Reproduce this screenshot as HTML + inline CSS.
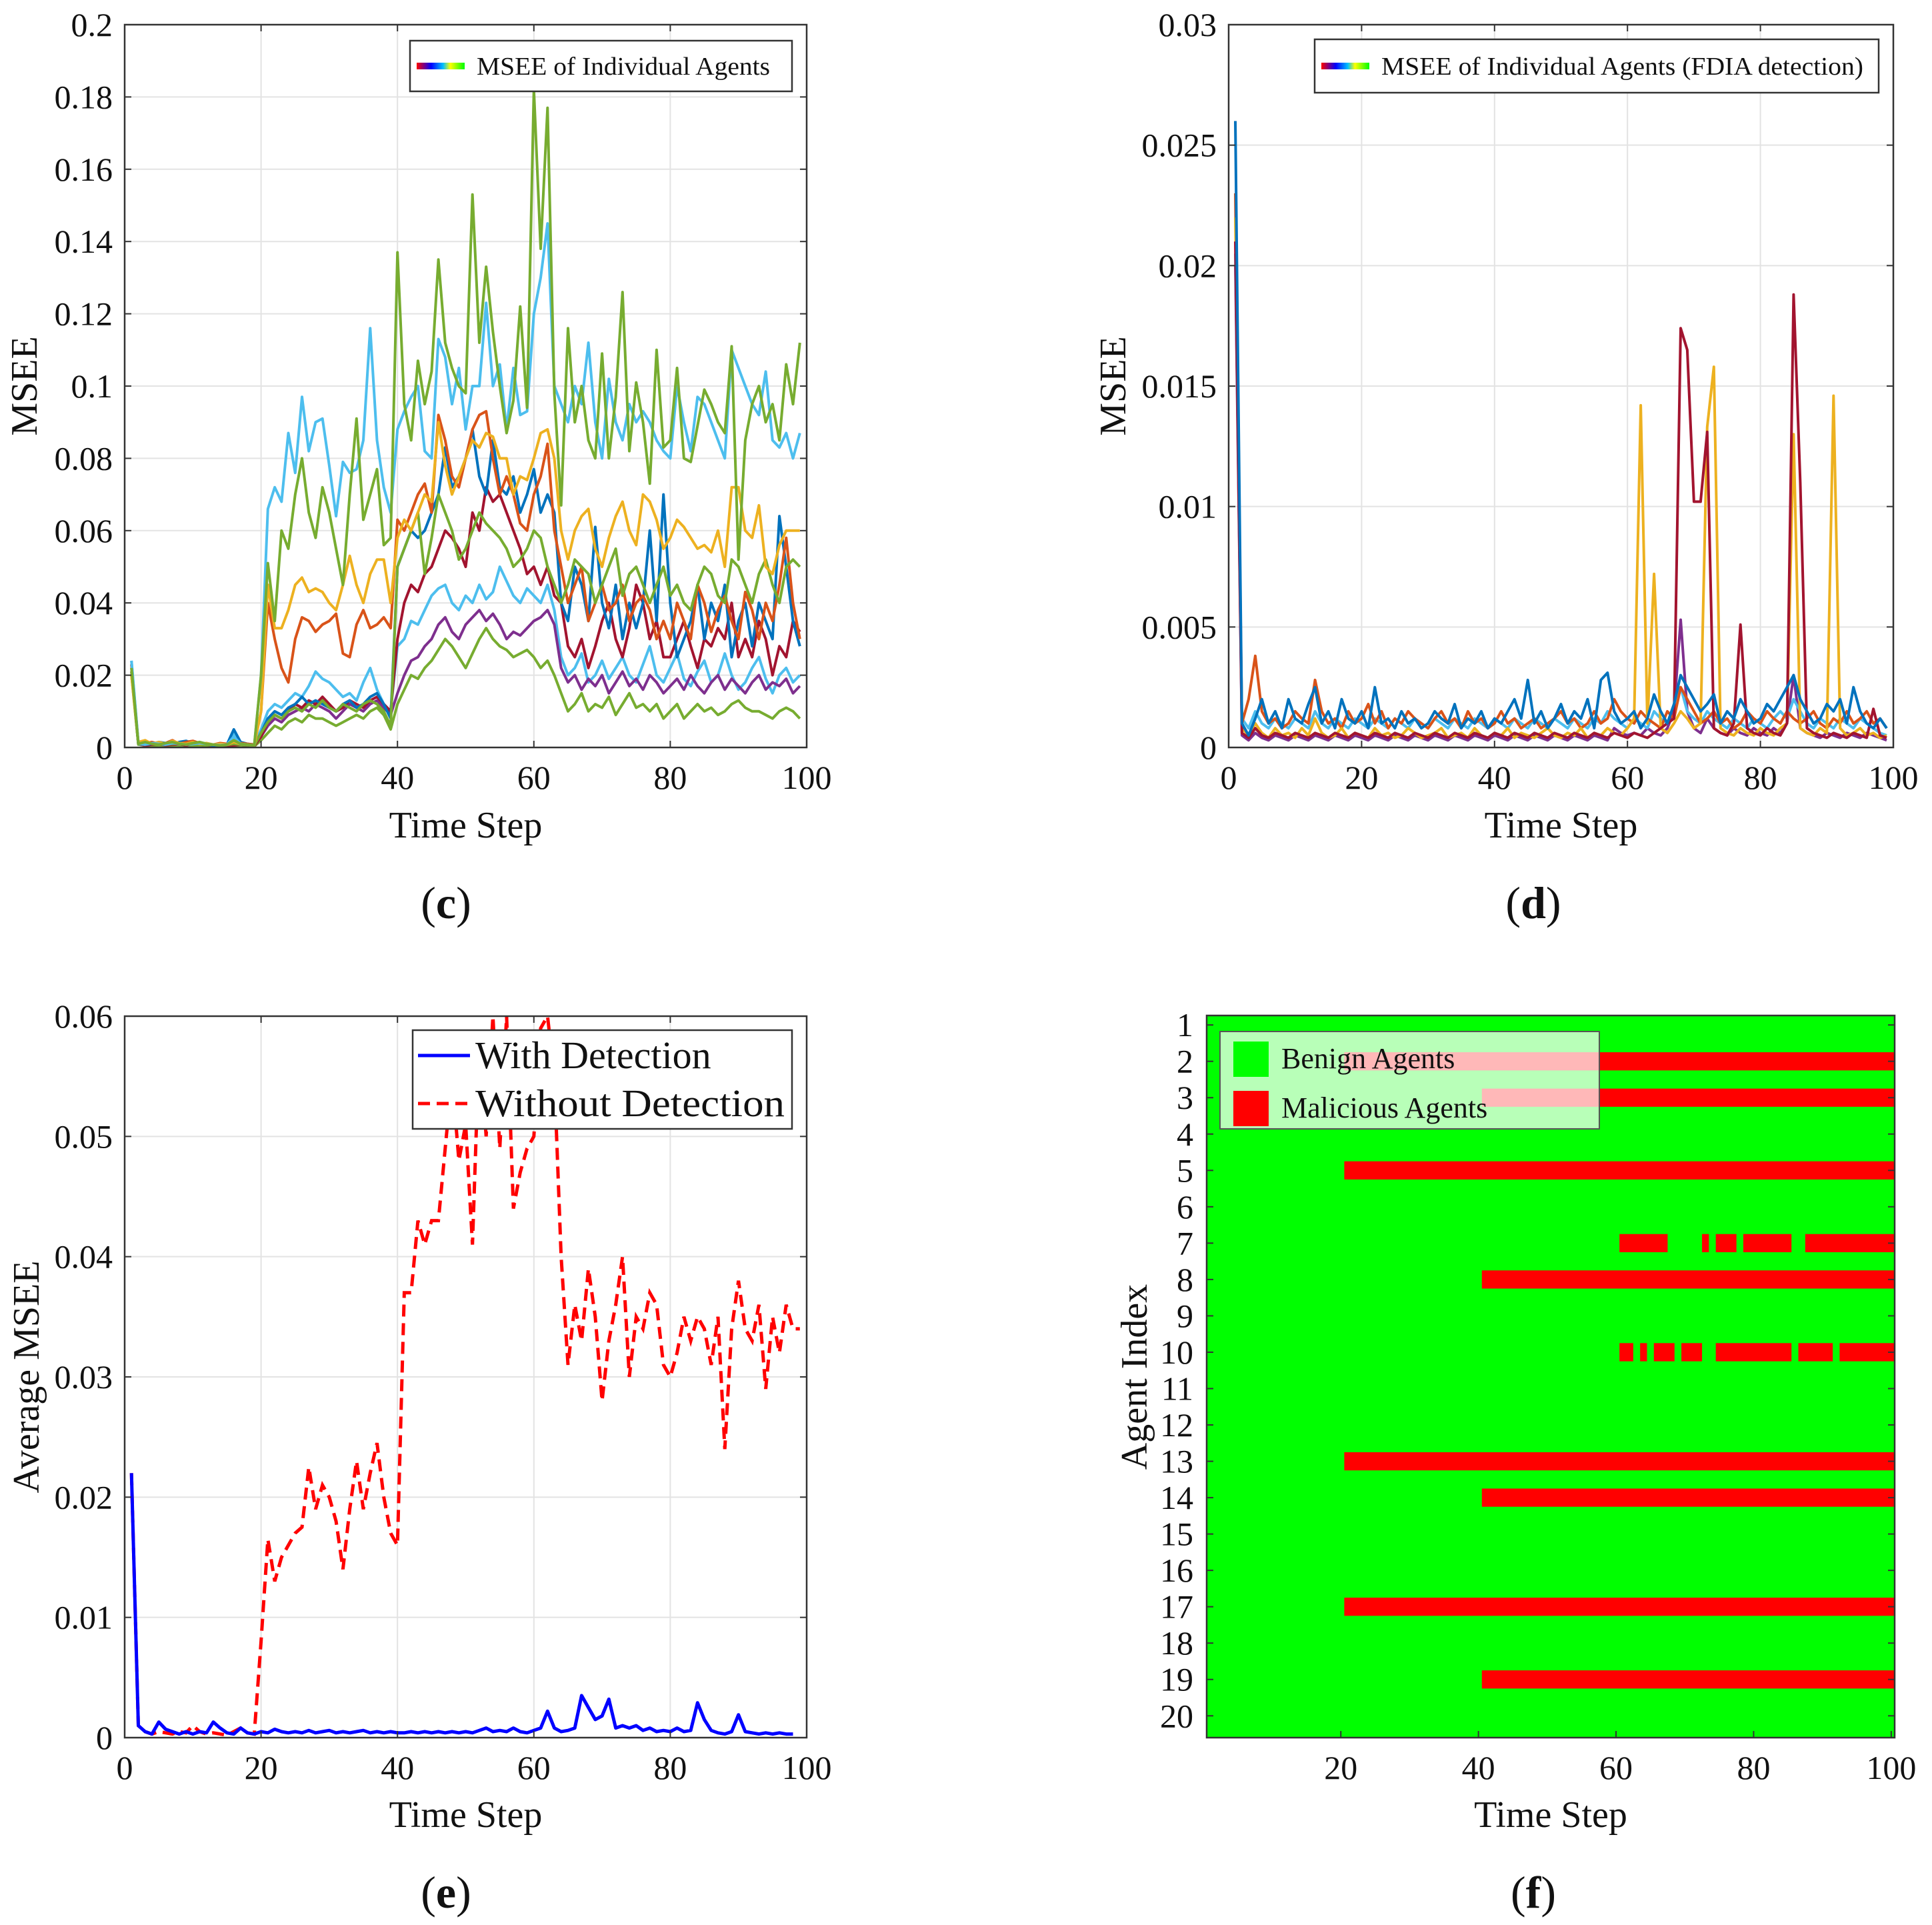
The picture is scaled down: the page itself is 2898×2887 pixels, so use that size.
<!DOCTYPE html>
<html><head><meta charset="utf-8"><style>
html,body{margin:0;padding:0;background:#fff}
svg{display:block}
text{font-family:"Liberation Serif",serif;fill:#111}
</style></head><body>
<svg id="fig" width="2898" height="2887" viewBox="0 0 2898 2887" xmlns="http://www.w3.org/2000/svg"></svg>
<script>
// ---------- panel (c) data ----------
const cTime = Array.from({length:99},(_, i)=>i+1);
const cGreenHigh = [.022,.001,.0015,.001,.0008,.0012,.0015,.001,.0008,.0012,.0015,.001,.0008,.0005,.0008,.002,.001,.0008,.0006,
.02,.051,.035,.06,.055,.07,.08,.065,.058,.072,.065,.055,.045,.07,.091,.063,.07,.077,.056,.058,
.137,.095,.085,.107,.095,.104,.135,.112,.105,.1,.098,.153,.112,.133,.115,.1,.087,.096,.122,.094,.182,.138,.177,.098,
.067,.116,.09,.1,.085,.08,.109,.08,.097,.126,.082,.101,.09,.073,.11,.083,.085,.105,.08,.079,.089,.099,.095,.09,.087,.111,.052,.085,.095,.1,.09,.095,.085,.106,.095,.112];
const cCyanHigh = [.024,.001,.0008,.0012,.001,.0008,.0012,.001,.0008,.001,.0012,.001,.0008,.0006,.0008,.003,.001,.0008,.0006,
.02,.066,.072,.068,.087,.076,.097,.082,.09,.091,.078,.064,.079,.076,.077,.085,.116,.085,.072,.065,
.088,.093,.097,.1,.082,.08,.113,.108,.095,.105,.088,.1,.1,.123,.1,.106,.088,.105,.092,.093,.12,.13,.145,.1,
.095,.09,.1,.095,.112,.09,.08,.102,.09,.085,.095,.09,.093,.09,.085,.082,.08,.1,.09,.082,.097,.095,.09,.085,.08,.11,.105,.1,.095,.092,.104,.085,.083,.087,.08,.087];
const cYellow = [.02,.0015,.002,.001,.0015,.001,.0018,.0012,.001,.0015,.001,.0012,.0008,.001,.0008,.0015,.001,.0008,.0005,
.01,.045,.033,.033,.038,.045,.047,.043,.044,.043,.04,.038,.045,.053,.045,.04,.048,.052,.052,.04,
.058,.063,.06,.065,.07,.068,.09,.078,.07,.075,.08,.085,.083,.087,.086,.08,.08,.07,.075,.074,.08,.087,.088,.08,
.06,.052,.06,.064,.066,.055,.05,.058,.064,.068,.06,.056,.07,.068,.063,.055,.058,.063,.061,.058,.055,.056,.054,.06,.05,.072,.072,.06,.058,.067,.05,.048,.056,.06,.06,.06];
const cOrange = [.023,.001,.0012,.0015,.001,.0012,.002,.001,.0015,.0018,.0012,.001,.0008,.0012,.001,.002,.0012,.001,.0008,
.01,.04,.03,.022,.018,.03,.036,.035,.032,.034,.035,.037,.026,.025,.034,.038,.033,.034,.036,.033,
.063,.06,.065,.07,.073,.065,.092,.085,.075,.072,.08,.088,.092,.093,.08,.07,.075,.07,.062,.06,.07,.075,.084,.06,
.05,.04,.045,.05,.035,.04,.045,.038,.04,.045,.035,.04,.042,.038,.03,.035,.03,.04,.035,.03,.045,.04,.032,.038,.042,.035,.03,.043,.038,.03,.04,.035,.045,.058,.04,.03];
const cBlue = [.023,.001,.0008,.001,.0015,.0012,.001,.0015,.0018,.0012,.001,.0008,.0005,.0006,.0008,.005,.0015,.001,.0008,
.004,.008,.01,.009,.011,.012,.014,.012,.013,.012,.011,.01,.012,.013,.011,.012,.014,.015,.012,.008,
.05,.055,.06,.058,.06,.065,.07,.083,.072,.075,.08,.088,.075,.07,.085,.072,.07,.075,.065,.07,.077,.065,.07,.065,
.04,.035,.05,.045,.035,.061,.04,.033,.045,.03,.04,.033,.04,.06,.035,.07,.04,.025,.03,.035,.045,.03,.04,.035,.045,.025,.035,.04,.028,.04,.035,.03,.064,.05,.035,.028];
const cDarkRed = [.021,.001,.0005,.0008,.001,.0006,.0008,.001,.0005,.0012,.0008,.0006,.0005,.0008,.0004,.0006,.0008,.0005,.0004,
.003,.007,.009,.008,.01,.012,.011,.013,.012,.014,.012,.01,.011,.013,.012,.011,.013,.014,.012,.01,
.03,.04,.045,.043,.048,.05,.055,.06,.058,.055,.05,.065,.06,.072,.068,.07,.065,.06,.055,.048,.05,.045,.05,.042,
.04,.028,.025,.03,.022,.028,.035,.04,.03,.025,.033,.045,.04,.03,.035,.025,.025,.03,.035,.028,.022,.03,.028,.033,.03,.04,.025,.03,.025,.035,.03,.02,.028,.025,.035,.032];
const cGreenLow = [.02,.0008,.0005,.0004,.0006,.0005,.0004,.0006,.0005,.0004,.0006,.0005,.0004,.0003,.0005,.0004,.0006,.0004,.0003,
.002,.004,.006,.005,.007,.008,.007,.009,.008,.008,.007,.006,.007,.008,.009,.008,.01,.011,.009,.005,
.012,.016,.02,.019,.022,.024,.027,.03,.028,.025,.022,.026,.03,.033,.03,.028,.027,.025,.026,.027,.025,.022,.024,.02,
.015,.01,.012,.015,.01,.012,.011,.014,.009,.012,.015,.011,.012,.01,.012,.008,.01,.012,.008,.01,.012,.01,.011,.009,.01,.012,.013,.011,.01,.01,.009,.008,.01,.011,.01,.008];
const cPurple = [.022,.001,.0008,.0005,.001,.0007,.0012,.0005,.0008,.001,.0006,.0005,.0008,.0004,.0006,.0005,.001,.0006,.0005,
.003,.006,.008,.007,.009,.01,.011,.01,.012,.011,.01,.008,.01,.012,.011,.01,.012,.013,.011,.009,
.015,.02,.024,.025,.028,.03,.034,.036,.032,.03,.034,.036,.038,.035,.037,.034,.03,.032,.031,.033,.035,.036,.038,.034,
.022,.018,.02,.016,.019,.017,.02,.015,.018,.021,.017,.019,.016,.02,.018,.015,.017,.019,.016,.02,.017,.015,.018,.02,.016,.019,.017,.015,.018,.02,.016,.018,.017,.019,.015,.017];
const cCyanMid = [.024,.0015,.001,.0008,.0012,.001,.0008,.0012,.001,.0008,.0015,.001,.0008,.0006,.0008,.004,.001,.0008,.0006,
.005,.01,.012,.011,.013,.015,.014,.017,.021,.019,.018,.016,.014,.015,.013,.018,.022,.016,.012,.01,
.028,.03,.035,.034,.038,.042,.044,.045,.04,.038,.042,.04,.045,.041,.043,.05,.046,.042,.04,.044,.042,.04,.045,.038,
.025,.02,.022,.026,.018,.02,.024,.019,.022,.025,.02,.018,.023,.028,.02,.018,.022,.026,.019,.017,.021,.024,.018,.02,.026,.02,.016,.018,.022,.025,.019,.015,.02,.022,.018,.02];
const cGreenMid = [.021,.001,.0008,.0012,.001,.0008,.001,.0012,.0008,.001,.0008,.0006,.0008,.0005,.0007,.001,.0008,.0006,.0005,
.004,.007,.009,.008,.01,.011,.01,.012,.011,.013,.011,.01,.012,.011,.01,.012,.013,.012,.01,.006,
.05,.055,.06,.065,.048,.058,.07,.065,.06,.052,.055,.06,.065,.062,.06,.058,.055,.05,.052,.055,.06,.058,.05,.045,
.04,.045,.052,.05,.048,.04,.045,.05,.055,.042,.048,.05,.045,.04,.045,.05,.042,.045,.04,.038,.045,.05,.048,.042,.04,.052,.05,.045,.04,.048,.052,.045,.04,.05,.052,.05];
const cSeries = [cCyanMid,cPurple,cGreenLow,cDarkRed,cBlue,cOrange,cGreenMid,cYellow,cCyanHigh,cGreenHigh];
const cColors = ["#4DBEEE","#7E2F8E","#77AC30","#A2142F","#0072BD","#D95319","#77AC30","#EDB120","#4DBEEE","#77AC30"];
const cYTicks = [0,0.02,0.04,0.06,0.08,0.1,0.12,0.14,0.16,0.18,0.2];
const cYTickLabels = ["0","0.02","0.04","0.06","0.08","0.1","0.12","0.14","0.16","0.18","0.2"];
const xTicks = [0,20,40,60,80,100];

// ---------- panel (d) data ----------
const dBlue = [.026,.001,.0005,.0012,.002,.001,.0015,.0008,.002,.0012,.001,.0018,.0025,.001,.0015,.0008,.002,.0012,.001,.0015,.0008,.0025,.001,.0012,.0008,.0015,.001,.0012,.0008,.001,.0015,.0012,.001,.0018,.0008,.0012,.001,.0015,.0008,.0012,.001,.0015,.002,.0012,.0028,.001,.0015,.0008,.0012,.0018,.001,.0015,.0012,.002,.0008,.0028,.0031,.0015,.001,.0012,.0015,.0008,.0012,.0022,.0015,.001,.0018,.003,.0025,.002,.0015,.0018,.0022,.001,.0015,.0012,.002,.0015,.001,.0012,.0018,.0015,.002,.0025,.003,.002,.0015,.001,.0012,.0018,.0015,.002,.001,.0025,.0015,.001,.0008,.0012,.0008];
const dOrange = [.023,.001,.002,.0038,.0015,.001,.0012,.0008,.001,.0015,.0012,.001,.0028,.0015,.001,.0012,.0008,.0015,.001,.0012,.0018,.001,.0015,.0008,.0012,.001,.0015,.0012,.001,.0008,.0012,.0015,.001,.0012,.0008,.0015,.001,.0012,.0008,.001,.0015,.001,.0012,.0008,.001,.0012,.0008,.001,.0012,.0015,.001,.0012,.0008,.001,.0015,.001,.0012,.002,.0015,.0012,.001,.0015,.0012,.001,.0008,.0015,.0012,.0025,.002,.0015,.001,.0012,.0015,.001,.0012,.0008,.001,.0015,.0012,.001,.0015,.0012,.001,.0015,.0012,.001,.0012,.0015,.001,.0008,.0012,.001,.0015,.001,.0012,.0015,.001,.0012,.0008];
const dYellow = [.022,.0008,.0005,.001,.0006,.0004,.0008,.0005,.0006,.0004,.0008,.0005,.0012,.0006,.0004,.0005,.0008,.0004,.0006,.0005,.0004,.0008,.0005,.0006,.0004,.0005,.0008,.0006,.0004,.0005,.0006,.0008,.0004,.0005,.0006,.0004,.0008,.0005,.0004,.0006,.0005,.0008,.0004,.0006,.0005,.0004,.0006,.0008,.0005,.0004,.0006,.0005,.0008,.0004,.0006,.0005,.0008,.0006,.0005,.0008,.0012,.0142,.001,.0072,.0008,.0006,.001,.0015,.0012,.0008,.001,.0133,.0158,.0008,.0006,.0005,.0008,.0006,.0005,.0008,.0006,.0005,.0008,.001,.013,.0008,.0006,.0005,.0008,.0006,.0146,.0008,.0005,.0006,.0008,.0005,.0006,.0004,.0005];
const dDarkRed = [.021,.0006,.0004,.0008,.0005,.0004,.0006,.0005,.0004,.0006,.0005,.0004,.0006,.0005,.0004,.0006,.0005,.0004,.0006,.0005,.0004,.0006,.0005,.0004,.0006,.0005,.0004,.0006,.0005,.0004,.0006,.0005,.0004,.0006,.0005,.0004,.0006,.0005,.0004,.0006,.0005,.0004,.0006,.0005,.0004,.0006,.0005,.0004,.0006,.0005,.0004,.0006,.0005,.0004,.0006,.0005,.0004,.0006,.0005,.0004,.0006,.0005,.0004,.0006,.0008,.001,.0012,.0174,.0165,.0102,.0102,.0131,.0008,.0006,.0005,.001,.0051,.0008,.0006,.0005,.0008,.0006,.0005,.001,.0188,.011,.0008,.0006,.0005,.0004,.0006,.0005,.0004,.0006,.0005,.0004,.0016,.0005,.0004];
const dPurple = [.02,.0005,.0003,.0006,.0004,.0003,.0005,.0004,.0003,.0005,.0004,.0003,.0005,.0004,.0003,.0005,.0004,.0003,.0005,.0004,.0003,.0005,.0004,.0003,.0005,.0004,.0003,.0005,.0004,.0003,.0005,.0004,.0003,.0005,.0004,.0003,.0005,.0004,.0003,.0005,.0004,.0003,.0005,.0004,.0003,.0005,.0004,.0003,.0005,.0004,.0003,.0005,.0004,.0003,.0005,.0004,.0003,.0008,.0006,.0005,.0006,.0005,.0008,.0006,.0005,.0008,.0015,.0053,.0015,.0008,.0006,.0012,.0008,.0006,.0005,.0008,.0006,.0005,.0008,.0006,.0005,.0008,.0006,.001,.003,.0008,.0006,.0005,.0004,.0006,.0005,.0004,.0006,.0005,.0004,.0006,.0005,.0004,.0003];
const dCyan = [.0205,.0012,.0008,.0015,.001,.0008,.0012,.001,.0008,.0012,.001,.0008,.0015,.001,.0008,.0012,.001,.0008,.0012,.001,.0008,.0012,.001,.0008,.0012,.001,.0008,.0012,.001,.0008,.0012,.001,.0008,.0012,.001,.0008,.0012,.001,.0008,.0012,.001,.0008,.0012,.001,.0008,.0012,.001,.0008,.0012,.001,.0008,.0012,.001,.0008,.0012,.001,.0015,.0012,.001,.0008,.0012,.001,.0008,.0015,.0012,.001,.0018,.0025,.0015,.0012,.001,.0015,.0012,.001,.0008,.0012,.001,.0008,.0012,.001,.0008,.0012,.0015,.0012,.002,.0015,.001,.0008,.0012,.001,.0008,.0012,.001,.0008,.0012,.001,.0008,.0006,.0005];
const dSeries = [dPurple,dCyan,dOrange,dYellow,dDarkRed,dBlue];
const dColors = ["#7E2F8E","#4DBEEE","#D95319","#EDB120","#A2142F","#0072BD"];
const dYTicks = [0,0.005,0.01,0.015,0.02,0.025,0.03];
const dYTickLabels = ["0","0.005","0.01","0.015","0.02","0.025","0.03"];

// ---------- panel (e) data ----------
const eWithout = [.022,.001,.0005,.0003,.0005,.0004,.0003,.0005,.0004,.001,.0005,.0003,.0004,.0003,.0002,.0005,.0008,.0004,.0003,
.008,.0165,.013,.015,.016,.017,.0175,.0225,.019,.021,.02,.018,.014,.019,.023,.019,.022,.0245,.02,.017,.016,
.037,.037,.043,.041,.043,.043,.049,.055,.048,.051,.041,.058,.05,.06,.049,.06,.044,.047,.049,.05,.059,.06,.055,
.04,.031,.036,.033,.039,.035,.028,.033,.036,.04,.03,.035,.034,.037,.036,.031,.03,.032,.035,.033,.035,.034,.031,.035,.024,.034,.038,.034,.033,.036,.029,.035,.032,.036,.034,.034];
const eWith = [.022,.001,.0005,.0003,.0013,.0007,.0005,.0003,.0005,.0003,.0005,.0004,.0013,.0008,.0004,.0003,.0008,.0004,.0003,
.0005,.0004,.0007,.0005,.0004,.0005,.0004,.0006,.0004,.0005,.0006,.0004,.0005,.0004,.0005,.0006,.0004,.0005,.0004,.0005,.0004,
.0004,.0005,.0004,.0005,.0004,.0005,.0004,.0005,.0004,.0005,.0004,.0006,.0008,.0005,.0006,.0005,.0008,.0005,.0004,.0006,.0008,.0022,.0008,
.0005,.0006,.0008,.0035,.0025,.0015,.0018,.0032,.0008,.001,.0008,.001,.0006,.0008,.0005,.0006,.0005,.0008,.0005,.0006,.0029,.0015,.0006,.0004,.0003,.0005,.0019,.0005,.0004,.0003,.0004,.0003,.0004,.0003,.0003];
const eYTicks = [0,0.01,0.02,0.03,0.04,0.05,0.06];
const eYTickLabels = ["0","0.01","0.02","0.03","0.04","0.05","0.06"];

// ---------- panel (f) data ----------
const fAgents = [1,2,3,4,5,6,7,8,9,10,11,12,13,14,15,16,17,18,19,20];
const fMaliciousRows = [2,3,5,7,8,10,13,14,17,19];
const fMaliciousStart = [[21],[41],[21],[61,73,75,79,88],[41],[61,64,66,70,75,87,93],[21],[41],[21],[41]];
const fMaliciousEnd = [[100],[100],[100],[67,73,77,85,100],[100],[62,64,68,72,85,91,100],[100],[100],[100],[100]];
const fXTicks = [20,40,60,80,100];

// ---------- helpers ----------
const NS="http://www.w3.org/2000/svg";
const svg=document.getElementById('fig');
function mk(tag,attrs,parent){const e=document.createElementNS(NS,tag);for(const k in attrs)e.setAttribute(k,attrs[k]);(parent||svg).appendChild(e);return e;}
function scale(d0,d1,r0,r1){return v=>r0+(v-d0)/(d1-d0)*(r1-r0);}

function axesFrame(g,L,T,R,B,xs,ys,xt,yt){
  xt.forEach(v=>{const l=mk('line',{x1:xs(v),x2:xs(v),y1:T,y2:B,stroke:'#e3e3e3','stroke-width':2},g);
    
    });
  yt.forEach(v=>{const l=mk('line',{x1:L,x2:R,y1:ys(v),y2:ys(v),stroke:'#e3e3e3','stroke-width':2},g);
    
    });
}
function axesBox(g,L,T,R,B,xs,ys,xt,yt,ytl,xtl){
  const b=mk('rect',{x:L,y:T,width:R-L,height:B-T,fill:'none',stroke:'#333','stroke-width':2.5},g);
  
  
  xt.forEach((v,i)=>{
    mk('line',{x1:xs(v),x2:xs(v),y1:B,y2:B-10,stroke:'#333','stroke-width':2},g);
    mk('line',{x1:xs(v),x2:xs(v),y1:T,y2:T+10,stroke:'#333','stroke-width':2},g);
    const t=mk('text',{x:xs(v),y:B+62,'font-size':50,'text-anchor':'middle'},g);
    t.textContent=xtl[i];
    
    
  });
  yt.forEach((v,i)=>{
    mk('line',{x1:L,x2:L+10,y1:ys(v),y2:ys(v),stroke:'#333','stroke-width':2},g);
    mk('line',{x1:R,x2:R-10,y1:ys(v),y2:ys(v),stroke:'#333','stroke-width':2},g);
    const t=mk('text',{x:L-18,y:ys(v)+17,'font-size':50,'text-anchor':'end'},g);
    t.textContent=ytl[i];
    
    
  });
}
function labels(g,cx,by,xl,ylx,yly,yl,pl,plx,ply){
  const a=mk('text',{x:cx,y:by,'font-size':56,'text-anchor':'middle'},g);a.textContent=xl;
  
  
  const b=mk('text',{x:ylx,y:yly,'font-size':56,'text-anchor':'middle',transform:`rotate(-90 ${ylx} ${yly})`},g);b.textContent=yl;
  
  
  const c=mk('text',{x:plx,y:ply,'font-size':68,'text-anchor':'middle'},g);
  c.innerHTML='(<tspan font-weight="bold">'+pl+'</tspan>)';
  
  
}
function gradLegend(g,x,y,w,h,txt,tlen){
  const r=mk('rect',{x:x,y:y,width:w,height:h,fill:'#fff',stroke:'#333','stroke-width':2.5},g);
  
  
  const sw=mk('rect',{x:x+10,y:y+h/2-5,width:72,height:10,fill:'url(#rainbow)'},g);
  
  
  const t=mk('text',{x:x+100,y:y+h/2+13,'font-size':38,textLength:tlen,lengthAdjust:'spacingAndGlyphs'},g);
  t.textContent=txt;
  
  
}
const defs=mk('defs',{});
const lg=mk('linearGradient',{id:'rainbow',x1:0,x2:1,y1:0,y2:0},defs);
[['0','#ff0000'],['0.3','#0000ff'],['0.55','#00c0ff'],['0.7','#ffff00'],['1','#00ff00']].forEach(s=>mk('stop',{offset:s[0],'stop-color':s[1]},lg));
function linePath(xs,ys,xsArr,vals){return vals.map((v,i)=>(i?'L':'M')+xs(xsArr[i]).toFixed(1)+' '+ys(v).toFixed(1)).join('');}

// ---------- panel c ----------
(function(){
  const g=mk('g',{});
  const L=187,T=37,R=1210,B=1121;
  const xs=scale(0,100,L,R), ys=scale(0,0.2,B,T);
  axesFrame(g,L,T,R,B,xs,ys,xTicks,cYTicks);
  cSeries.forEach((s,k)=>{
    const p=mk('path',{d:linePath(xs,ys,cTime,s),fill:'none',stroke:cColors[k],'stroke-width':4,'stroke-linejoin':'round'},g);
    
    
  });
  axesBox(g,L,T,R,B,xs,ys,xTicks,cYTicks,cYTickLabels,xTicks.map(String));
  gradLegend(g,615,61,573,76,'MSEE of Individual Agents',440);
  labels(g,(L+R)/2,1256,'Time Step',55,579,'MSEE','c',669,1377);
})();

// ---------- panel d ----------
(function(){
  const g=mk('g',{});
  const L=1843,T=37,R=2840,B=1121;
  const xs=scale(0,100,L,R), ys=scale(0,0.03,B,T);
  axesFrame(g,L,T,R,B,xs,ys,xTicks,dYTicks);
  dSeries.forEach((s,k)=>{
    const p=mk('path',{d:linePath(xs,ys,cTime,s),fill:'none',stroke:dColors[k],'stroke-width':4,'stroke-linejoin':'round'},g);
    
    
  });
  axesBox(g,L,T,R,B,xs,ys,xTicks,dYTicks,dYTickLabels,xTicks.map(String));
  gradLegend(g,1972,59,846,80,'MSEE of Individual Agents (FDIA detection)',723);
  labels(g,(L+R)/2,1256,'Time Step',1688,579,'MSEE','d',2300,1377);
})();

// ---------- panel e ----------
(function(){
  const g=mk('g',{});
  const L=187,T=1524,R=1210,B=2606;
  const xs=scale(0,100,L,R), ys=scale(0,0.06,B,T);
  axesFrame(g,L,T,R,B,xs,ys,xTicks,eYTicks);
  const p1=mk('path',{d:linePath(xs,ys,cTime,eWithout),fill:'none',stroke:'#ff0000','stroke-width':5,'stroke-dasharray':'18 10'},g);
  
  
  const p2=mk('path',{d:linePath(xs,ys,cTime,eWith),fill:'none',stroke:'#0000ff','stroke-width':5,'stroke-linejoin':'round'},g);
  
  
  axesBox(g,L,T,R,B,xs,ys,xTicks,eYTicks,eYTickLabels,xTicks.map(String));
  const lb=mk('rect',{x:619,y:1545,width:569,height:148,fill:'#fff',stroke:'#333','stroke-width':2.5},g);
  
  
  mk('line',{x1:627,x2:705,y1:1583,y2:1583,stroke:'#0000ff','stroke-width':5},g);
  mk('line',{x1:627,x2:705,y1:1655,y2:1655,stroke:'#ff0000','stroke-width':5,'stroke-dasharray':'18 10'},g);
  const t1=mk('text',{x:713,y:1602,'font-size':58},g);t1.textContent='With Detection';
  
  
  const t2=mk('text',{x:713,y:1674,'font-size':58,textLength:464,lengthAdjust:'spacingAndGlyphs'},g);t2.textContent='Without Detection';
  
  
  labels(g,(L+R)/2,2740,'Time Step',58,2065,'Average MSEE','e',669,2861);
})();

// ---------- panel f ----------
(function(){
  const g=mk('g',{});
  const L=1810,T=1523,R=2842,B=2606;
  const xs=scale(0.5,100.5,L,R), ys=scale(0.74,20.6,T,B);
  const bg=mk('rect',{x:L,y:T,width:R-L,height:B-T,fill:'#00ff00'},g);
  
  
  fMaliciousRows.forEach((row,i)=>{
    fMaliciousStart[i].forEach((s,j)=>{
      const e=fMaliciousEnd[i][j];
      const r=mk('rect',{x:xs(s-0.5),y:ys(row-0.25),width:xs(e+0.5)-xs(s-0.5),height:ys(row+0.25)-ys(row-0.25),fill:'#ff0000'},g);
      
      
    });
  });
  const b=mk('rect',{x:L,y:T,width:R-L,height:B-T,fill:'none',stroke:'#333','stroke-width':2.5},g);
  
  
  fXTicks.forEach(v=>{
    mk('line',{x1:xs(v),x2:xs(v),y1:B,y2:B-10,stroke:'#333','stroke-width':2},g);
    const t=mk('text',{x:xs(v),y:B+62,'font-size':50,'text-anchor':'middle'},g);t.textContent=v;
    
    
  });
  fAgents.forEach(a=>{
    mk('line',{x1:L,x2:L+10,y1:ys(a),y2:ys(a),stroke:'#333','stroke-width':2},g);
    mk('line',{x1:R,x2:R-10,y1:ys(a),y2:ys(a),stroke:'#333','stroke-width':2},g);
    const t=mk('text',{x:L-20,y:ys(a)+17,'font-size':50,'text-anchor':'end'},g);t.textContent=a;
    
    
  });
  const lb=mk('rect',{x:1830,y:1547,width:569,height:146,fill:'rgba(255,255,255,0.72)',stroke:'#555','stroke-width':2},g);
  
  
  mk('rect',{x:1850,y:1562,width:53,height:53,fill:'#00ff00'},g);
  mk('rect',{x:1850,y:1636,width:53,height:53,fill:'#ff0000'},g);
  const t1=mk('text',{x:1922,y:1602,'font-size':44},g);t1.textContent='Benign Agents';
  
  
  const t2=mk('text',{x:1922,y:1676,'font-size':44},g);t2.textContent='Malicious Agents';
  
  
  labels(g,2326,2740,'Time Step',1720,2065,'Agent Index','f',2300,2861);
})();
</script>
</body></html>
